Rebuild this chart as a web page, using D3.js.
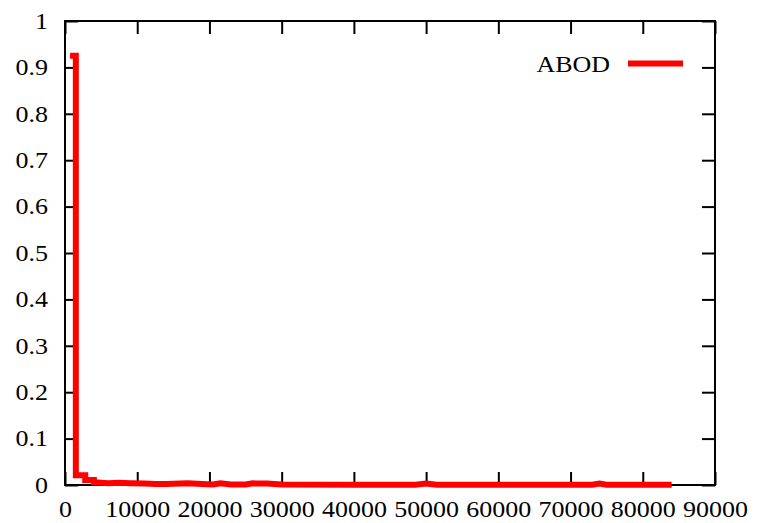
<!DOCTYPE html>
<html>
<head>
<meta charset="utf-8">
<script src="https://cdn.jsdelivr.net/npm/d3@7"></script>
<style>
  html, body { margin: 0; padding: 0; background: #fff; }
  svg { display: block; }
</style>
</head>
<body>
<svg id="chart" width="757" height="523"></svg>
<script>
// ---- data ----
const seriesName = "ABOD";
const xValues = [700, 1500, 1500, 2800, 2800, 4000, 4000, 6000, 7500, 9000, 11000, 12500, 14000, 17000, 19000, 20500, 21500, 23000, 25000, 26000, 28000, 30000, 40000, 48500, 50000, 51500, 60000, 70000, 73000, 74000, 75000, 84000];
const yValues = [0.925, 0.925, 0.021, 0.021, 0.011, 0.011, 0.006, 0.004, 0.005, 0.004, 0.003, 0.002, 0.002, 0.004, 0.002, 0.001, 0.0035, 0.001, 0.001, 0.0035, 0.003, 0.001, 0.0008, 0.0008, 0.003, 0.0008, 0.0008, 0.0008, 0.0008, 0.003, 0.0008, 0.0008];
const xTicks = [0, 10000, 20000, 30000, 40000, 50000, 60000, 70000, 80000, 90000];
const xTickLabels = ["0", "10000", "20000", "30000", "40000", "50000", "60000", "70000", "80000", "90000"];
const yTicks = [0, 0.1, 0.2, 0.3, 0.4, 0.5, 0.6, 0.7, 0.8, 0.9, 1];
const yTickLabels = ["0", "0.1", "0.2", "0.3", "0.4", "0.5", "0.6", "0.7", "0.8", "0.9", "1"];

// ---- layout ----
const L = 65, R = 715, T = 21, B = 485;
const FONT = "Liberation Serif, Times New Roman, serif";
const FS = 23, SX = 1.13, TICK = 13;

const svg = d3.select("#chart");
const x = d3.scaleLinear().domain([0, 90000]).range([L, R]);
const y = d3.scaleLinear().domain([0, 1]).range([B, T]);

function styleAxis(g) {
  g.select(".domain").remove();
  g.selectAll("line").attr("stroke", "#000").attr("stroke-width", 2);
  g.selectAll("text").attr("font-family", FONT).attr("font-size", FS).attr("fill", "#000");
}

// bottom axis with labels
const gx = svg.append("g").attr("transform", `translate(0,${B})`)
  .call(d3.axisBottom(x).tickValues(xTicks).tickFormat((d, i) => xTickLabels[i])
    .tickSizeInner(-TICK).tickSizeOuter(0).tickPadding(16));
styleAxis(gx);
gx.selectAll("text").attr("transform", `scale(${SX},1)`);

// top mirror ticks
const gxt = svg.append("g").attr("transform", `translate(0,${T})`)
  .call(d3.axisTop(x).tickValues(xTicks).tickFormat("").tickSizeInner(-TICK).tickSizeOuter(0));
styleAxis(gxt);

// left axis with labels
const gy = svg.append("g").attr("transform", `translate(${L},0)`)
  .call(d3.axisLeft(y).tickValues(yTicks).tickFormat((d, i) => yTickLabels[i])
    .tickSizeInner(-TICK).tickSizeOuter(0).tickPadding(15));
styleAxis(gy);
gy.selectAll("text").attr("transform", `scale(${SX},1)`);

// right mirror ticks
const gyr = svg.append("g").attr("transform", `translate(${R},0)`)
  .call(d3.axisRight(y).tickValues(yTicks).tickFormat("").tickSizeInner(-TICK).tickSizeOuter(0));
styleAxis(gyr);

// border
svg.append("rect").attr("x", L).attr("y", T).attr("width", R - L).attr("height", B - T)
  .attr("fill", "none").attr("stroke", "#000").attr("stroke-width", 2);

// series line
const pts = xValues.map((v, i) => [v, yValues[i]]);
const line = d3.line().x(d => x(d[0])).y(d => y(d[1]));
svg.append("path").datum(pts).attr("d", line)
  .attr("fill", "none").attr("stroke", "#ff0000").attr("stroke-width", 6)
  .attr("stroke-linejoin", "miter").attr("stroke-linecap", "butt");

// legend
const lg = svg.append("g");
lg.append("text").attr("transform", `translate(610,64) scale(${SX},1)`)
  .attr("text-anchor", "end").attr("dy", "0.35em")
  .attr("font-family", FONT).attr("font-size", FS).attr("fill", "#000")
  .text(seriesName);
lg.append("line").attr("x1", 628).attr("x2", 683).attr("y1", 63.5).attr("y2", 63.5)
  .attr("stroke", "#ff0000").attr("stroke-width", 6);
</script>
</body>
</html>
